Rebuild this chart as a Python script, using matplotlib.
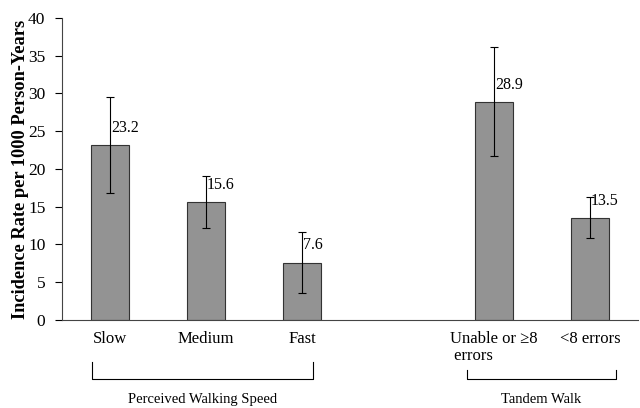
import matplotlib.pyplot as plt
from matplotlib.transforms import blended_transform_factory

categories = ["Slow", "Medium", "Fast", "", "Unable or \u22658\n errors", "<8 errors"]
rates = [23.2, 15.6, 7.6, None, 28.9, 13.5]
lower = [16.8, 12.2, 3.6, None, 21.7, 10.8]
upper = [29.5, 19.0, 11.6, None, 36.2, 16.3]
labels = ["23.2", "15.6", "7.6", "", "28.9", "13.5"]
groups = ["Perceived Walking Speed", "Tandem Walk"]

plt.rcParams['font.family'] = ['Liberation Serif', 'DejaVu Serif']

fig = plt.figure(figsize=(6.4, 4.08), dpi=100)
ax = fig.add_axes([0.097, 0.216, 0.9, 0.74])

xs = [i for i, r in enumerate(rates) if r is not None]
vals = [rates[i] for i in xs]
err_lo = [rates[i] - lower[i] for i in xs]
err_hi = [upper[i] - rates[i] for i in xs]

ax.bar(xs, vals, width=0.4, color='#939393', edgecolor='#333333', linewidth=0.8, zorder=2)
ax.errorbar(xs, vals, yerr=[err_lo, err_hi], fmt='none', ecolor='black',
            elinewidth=0.8, capsize=3, capthick=0.8, zorder=3)
for i in xs:
    ax.text(i + 0.01, rates[i] + 1.2, labels[i], ha='left', va='bottom', fontsize=11.5)

ax.set_xlim(-0.5, 5.5)
ax.set_ylim(0, 40)
ax.set_yticks(range(0, 41, 5))
ax.set_xticks(range(len(categories)))
ax.set_xticklabels(categories, fontsize=12, linespacing=1.1)
for t in ax.get_xticklabels():
    t.set_multialignment('left')
ax.tick_params(axis='x', length=0, pad=8)
ax.tick_params(axis='y', labelsize=12.5, length=5, width=0.8, direction='out', pad=7)
ax.set_ylabel("Incidence Rate per 1000 Person-Years", fontsize=13.2, fontweight='bold')
ax.yaxis.set_label_coords(-0.057, 0.5)

for s in ['top', 'right']:
    ax.spines[s].set_visible(False)
for s in ['left', 'bottom']:
    ax.spines[s].set_color('#444444')
    ax.spines[s].set_linewidth(0.8)

# group brackets below the axis
tr = blended_transform_factory(ax.transData, ax.transAxes)
brackets = [(-0.19, 2.115, -0.139), (3.72, 5.27, -0.166)]
bottom_y = -0.195
for (x0, x1, ytop), name in zip(brackets, groups):
    ax.plot([x0, x0, x1, x1], [ytop, bottom_y, bottom_y, ytop], color='black',
            linewidth=0.8, transform=tr, clip_on=False)
    ax.text((x0 + x1) / 2, -0.265, name, ha='center', va='center', fontsize=10.5, transform=tr)

fig.savefig("out.png", dpi=100)
